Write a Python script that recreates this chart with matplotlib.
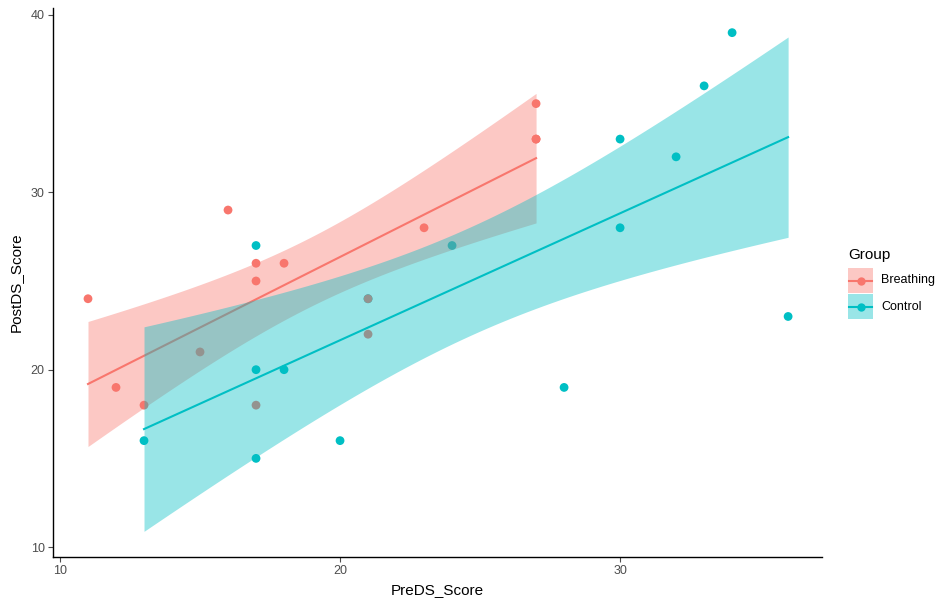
import numpy as np
import matplotlib
matplotlib.use("Agg")
import matplotlib.pyplot as plt
from matplotlib.patches import Rectangle
from matplotlib.lines import Line2D

plt.rcParams['font.family'] = ['Liberation Sans', 'DejaVu Sans']

groups = ["Breathing", "Control"]
colors = {"Breathing": "#F8766D", "Control": "#00BFC4"}

breathing_pre = [11, 12, 13, 15, 16, 17, 17, 17, 18, 21, 21, 23, 27, 27, 27]
breathing_post = [24, 19, 18, 21, 29, 26, 25, 18, 26, 24, 22, 28, 35, 33, 33]
control_pre = [13, 17, 17, 17, 18, 20, 21, 24, 28, 30, 30, 32, 33, 34, 36]
control_post = [16, 27, 20, 15, 20, 16, 24, 27, 19, 33, 28, 32, 36, 39, 23]

data = {"Breathing": (breathing_pre, breathing_post),
        "Control": (control_pre, control_post)}

xticks = [10, 20, 30]
yticks = [10, 20, 30, 40]
T975_DF13 = 2.160369

W, H = 941, 599
fig = plt.figure(figsize=(W / 100, H / 100), dpi=100)
ax = fig.add_axes([53 / W, 1 - 557 / H, (822 - 53) / W, (557 - 8) / H])

# points (control drawn first so overlapping breathing points sit on top)
for g in ["Control", "Breathing"]:
    x, y = data[g]
    ax.scatter(x, y, s=40, color=colors[g], edgecolors='none', zorder=2)

# smooth layer: ribbon + line per group
z = 3
for g in groups:
    x, y = map(np.asarray, data[g])
    n = len(x)
    slope, intercept = np.polyfit(x, y, 1)
    resid = y - (slope * x + intercept)
    s = np.sqrt(np.sum(resid ** 2) / (n - 2))
    xbar = x.mean()
    sxx = np.sum((x - xbar) ** 2)
    xs = np.linspace(x.min(), x.max(), 80)
    yhat = slope * xs + intercept
    se = s * np.sqrt(1 / n + (xs - xbar) ** 2 / sxx)
    ax.fill_between(xs, yhat - T975_DF13 * se, yhat + T975_DF13 * se,
                    color=colors[g], alpha=0.4, linewidth=0, zorder=z)
    ax.plot(xs, yhat, color=colors[g], linewidth=1.5, zorder=z + 1)
    z += 2

ax.set_xlim(9.75, 37.21)
ax.set_ylim(9.44, 40.39)
ax.set_xticks(xticks)
ax.set_yticks(yticks)
for sp in ['top', 'right']:
    ax.spines[sp].set_visible(False)
for sp in ['left', 'bottom']:
    ax.spines[sp].set_linewidth(1.0)
    ax.spines[sp].set_color('black')
ax.tick_params(axis='both', length=3.5, width=0.8, color='#4d4d4d',
               labelsize=9, labelcolor='#4d4d4d', pad=2.5)
ax.set_xlabel("PreDS_Score", fontsize=11, labelpad=4)
ax.set_ylabel("PostDS_Score", fontsize=11, labelpad=6)

# legend drawn manually (ggplot style keys)
def fx(px):
    return px / W

def fy(py):
    return 1 - py / H

fig.text(fx(848), fy(255), "Group", fontsize=11, ha='left', va='center')
key_x0, key_x1 = 848, 873
key_tops = [268, 294]
for g, top in zip(groups, key_tops):
    bot = top + 25
    fig.add_artist(Rectangle((fx(key_x0), fy(bot)), fx(key_x1) - fx(key_x0),
                             fy(top) - fy(bot), transform=fig.transFigure,
                             facecolor=colors[g], alpha=0.4, edgecolor='none'))
    yc = fy((top + bot) / 2)
    fig.add_artist(Line2D([fx(key_x0 + 1), fx(key_x1 - 1)], [yc, yc],
                          transform=fig.transFigure, color=colors[g], linewidth=1.5))
    fig.add_artist(Line2D([fx((key_x0 + key_x1) / 2)], [yc], transform=fig.transFigure,
                          color=colors[g], marker='o', markersize=6, markeredgewidth=0,
                          linestyle='none'))
    fig.text(fx(881), yc, g, fontsize=9, ha='left', va='center')

fig.savefig("out.png", dpi=100)
